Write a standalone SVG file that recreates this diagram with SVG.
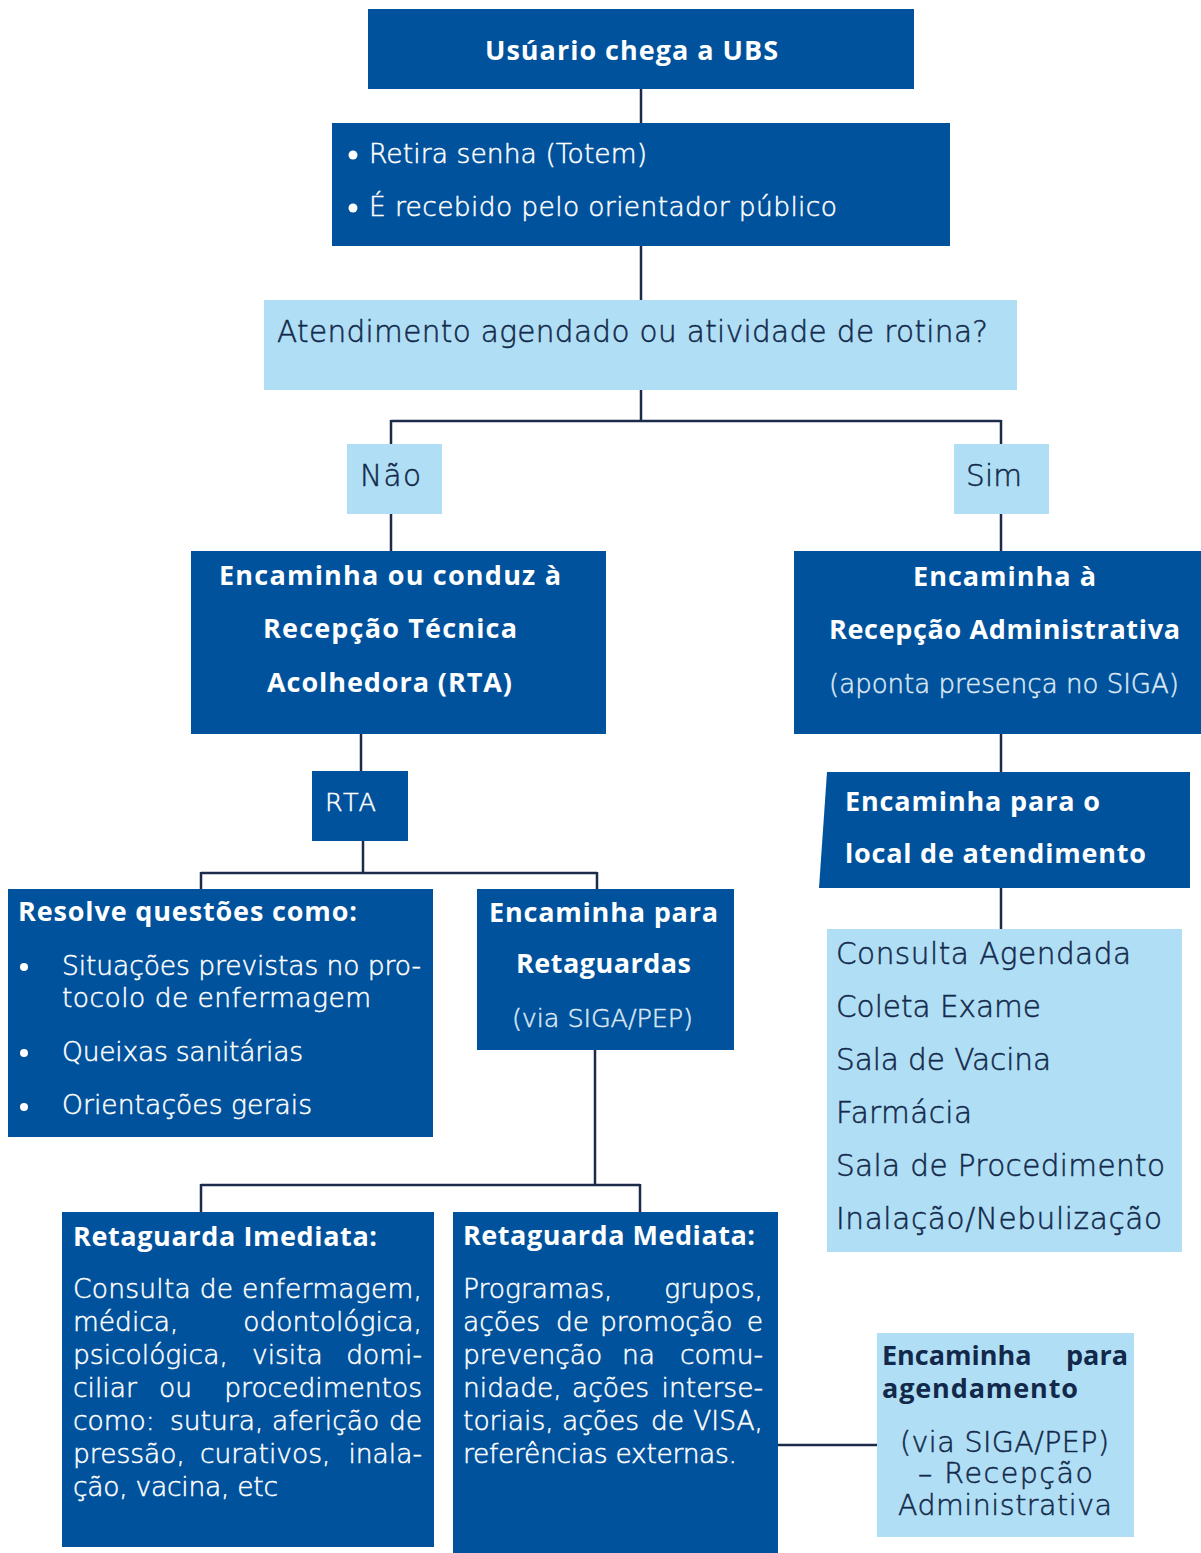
<svg xmlns="http://www.w3.org/2000/svg" width="1201" height="1553" viewBox="0 0 1201 1553">
<style>
.bx{fill:#01529c}
.lt{fill:#b0def4}
.t{font-family:'DejaVu Sans','Open Sans',sans-serif;fill:#fff;stroke:#fff;stroke-width:0.5px;font-weight:300}
.b{font-family:'Open Sans','Liberation Sans',sans-serif;font-weight:700;font-size:27px;stroke-width:0}
.d{fill:#13294b;stroke:#13294b}
.s{fill:#dce8f4;stroke:#dce8f4}
.p{font-size:26.5px}
.e{text-anchor:end}
#connectors path{fill:none;stroke:#1c2b4a;stroke-width:2.5}
</style>
<rect width="1201" height="1553" fill="#fff"/>
<g id="connectors">
<path d="M641 89V123M641 246V300M641 390V421M391 421H1001M391 420V444M1001 420V444"/>
<path d="M391 514V551M1001 514V551M361 734V771M363 841V873M201 873H597M201 872V889M597 872V889"/>
<path d="M1001 734V772M1001 888V929M595 1050V1185M201 1185H640M201 1184V1212M640 1184V1212M778 1445H877"/>
</g>
<g id="n1"><rect class="bx" x="368" y="9" width="546" height="80"/>
<text class="t b" x="485" y="60" textLength="293" lengthAdjust="spacing">Usúario chega a UBS</text></g>
<g id="n2"><rect class="bx" x="332" y="123" width="618" height="123"/>
<circle cx="353" cy="155" r="4.5" fill="#fff"/><circle cx="353" cy="208" r="4.5" fill="#fff"/>
<text class="t" x="369" y="163" font-size="26.5" textLength="278" lengthAdjust="spacing">Retira senha (Totem)</text>
<text class="t" x="369" y="216" font-size="26.5" textLength="468" lengthAdjust="spacing">É recebido pelo orientador público</text></g>
<g id="n3"><rect class="lt" x="264" y="300" width="753" height="90"/>
<text class="t d" x="277" y="342" font-size="29.5" textLength="711" lengthAdjust="spacing">Atendimento agendado ou atividade de rotina?</text></g>
<g id="n4"><rect class="lt" x="347" y="444" width="95" height="70"/>
<text class="t d" x="360" y="486" font-size="29.5" textLength="61" lengthAdjust="spacing">Não</text></g>
<g id="n5"><rect class="lt" x="954" y="444" width="95" height="70"/>
<text class="t d" x="966" y="486" font-size="29.5" textLength="56" lengthAdjust="spacing">Sim</text></g>
<g id="n6"><rect class="bx" x="191" y="551" width="415" height="183"/>
<text class="t b" x="219" y="585" textLength="342" lengthAdjust="spacing">Encaminha ou conduz à</text>
<text class="t b" x="263" y="638" textLength="254" lengthAdjust="spacing">Recepção Técnica</text>
<text class="t b" x="267" y="692" textLength="245" lengthAdjust="spacing">Acolhedora (RTA)</text></g>
<g id="n7"><rect class="bx" x="794" y="551" width="407" height="183"/>
<text class="t b" x="913" y="586" textLength="183" lengthAdjust="spacing">Encaminha à</text>
<text class="t b" x="829" y="639" textLength="351" lengthAdjust="spacing">Recepção Administrativa</text>
<text class="t s" x="829" y="693" font-size="26" textLength="350" lengthAdjust="spacing">(aponta presença no SIGA)</text></g>
<g id="n8"><rect class="bx" x="312" y="771" width="96" height="70"/>
<text class="t" x="325" y="811" font-size="25.5" textLength="51" lengthAdjust="spacing">RTA</text></g>
<g id="n9"><polygon class="bx" points="827,772 1190,772 1190,888 819,888"/>
<text class="t b" x="845" y="811" textLength="255" lengthAdjust="spacing">Encaminha para o</text>
<text class="t b" x="845" y="863" textLength="301" lengthAdjust="spacing">local de atendimento</text></g>
<g id="n10"><rect class="lt" x="827" y="929" width="355" height="323"/>
<text class="t d" x="836" y="964" font-size="29.5" textLength="295" lengthAdjust="spacing">Consulta Agendada</text>
<text class="t d" x="836" y="1017" font-size="29.5" textLength="205" lengthAdjust="spacing">Coleta Exame</text>
<text class="t d" x="836" y="1070" font-size="29.5" textLength="215" lengthAdjust="spacing">Sala de Vacina</text>
<text class="t d" x="836" y="1123" font-size="29.5" textLength="136" lengthAdjust="spacing">Farmácia</text>
<text class="t d" x="836" y="1176" font-size="29.5" textLength="329" lengthAdjust="spacing">Sala de Procedimento</text>
<text class="t d" x="836" y="1229" font-size="29.5" textLength="326" lengthAdjust="spacing">Inalação/Nebulização</text></g>
<g id="n11"><rect class="bx" x="8" y="889" width="425" height="248"/>
<text class="t b" x="18" y="921" textLength="339" lengthAdjust="spacing">Resolve questões como:</text>
<circle cx="24" cy="967" r="4" fill="#fff"/><circle cx="24" cy="1053" r="4" fill="#fff"/><circle cx="24" cy="1107" r="4" fill="#fff"/>
<text class="t p" x="62" y="975" textLength="359" lengthAdjust="spacing">Situações previstas no pro-</text>
<text class="t p" x="62" y="1007" textLength="309" lengthAdjust="spacing">tocolo de enfermagem</text>
<text class="t p" x="62" y="1061" textLength="241" lengthAdjust="spacing">Queixas sanitárias</text>
<text class="t p" x="62" y="1114" textLength="250" lengthAdjust="spacing">Orientações gerais</text></g>
<g id="n12"><rect class="bx" x="477" y="889" width="257" height="161"/>
<text class="t b" x="489" y="922" textLength="229" lengthAdjust="spacing">Encaminha para</text>
<text class="t b" x="516" y="973" textLength="175" lengthAdjust="spacing">Retaguardas</text>
<text class="t s" x="512" y="1027" font-size="25.5" textLength="181" lengthAdjust="spacing">(via SIGA/PEP)</text></g>
<g id="n13"><rect class="bx" x="62" y="1212" width="372" height="335"/>
<text class="t b" x="73" y="1246" textLength="304" lengthAdjust="spacing">Retaguarda Imediata:</text>
<text class="t p" x="73" y="1298" textLength="349" lengthAdjust="spacing">Consulta de enfermagem,</text>
<text class="t p" x="73" y="1331">médica,</text><text class="t p e" x="422" y="1331">odontológica,</text>
<text class="t p"><tspan x="73" y="1364">psicológica,</tspan><tspan x="252" y="1364">visita</tspan></text><text class="t p e" x="422" y="1364">domi-</text>
<text class="t p"><tspan x="73" y="1397">ciliar</tspan><tspan x="159" y="1397">ou</tspan></text><text class="t p e" x="422" y="1397">procedimentos</text>
<text class="t p"><tspan x="73" y="1430">como:</tspan><tspan x="170" y="1430">sutura,</tspan><tspan x="272" y="1430">aferição</tspan></text><text class="t p e" x="422" y="1430">de</text>
<text class="t p"><tspan x="73" y="1463">pressão,</tspan><tspan x="200" y="1463">curativos,</tspan></text><text class="t p e" x="422" y="1463">inala-</text>
<text class="t p" x="73" y="1496" textLength="205" lengthAdjust="spacing">ção, vacina, etc</text></g>
<g id="n14"><rect class="bx" x="453" y="1212" width="325" height="341"/>
<text class="t b" x="463" y="1245" textLength="292" lengthAdjust="spacing">Retaguarda Mediata:</text>
<text class="t p" x="463" y="1298">Programas,</text><text class="t p e" x="763" y="1298">grupos,</text>
<text class="t p"><tspan x="463" y="1331">ações</tspan><tspan x="556" y="1331">de</tspan><tspan x="600" y="1331">promoção</tspan></text><text class="t p e" x="763" y="1331">e</text>
<text class="t p"><tspan x="463" y="1364">prevenção</tspan><tspan x="622" y="1364">na</tspan></text><text class="t p e" x="763" y="1364">comu-</text>
<text class="t p"><tspan x="463" y="1397">nidade,</tspan><tspan x="572" y="1397">ações</tspan></text><text class="t p e" x="763" y="1397">interse-</text>
<text class="t p"><tspan x="463" y="1430">toriais,</tspan><tspan x="562" y="1430">ações</tspan><tspan x="651" y="1430">de</tspan></text><text class="t p e" x="763" y="1430">VISA,</text>
<text class="t p" x="463" y="1463" textLength="274" lengthAdjust="spacing">referências externas.</text></g>
<g id="n15"><rect class="lt" x="877" y="1333" width="257" height="204"/>
<text class="t b d" x="882" y="1365" font-size="26">Encaminha</text><text class="t b d e" x="1128" y="1365" font-size="26">para</text>
<text class="t b d" x="882" y="1398" font-size="26" textLength="196" lengthAdjust="spacing">agendamento</text>
<text class="t d" x="900" y="1452" font-size="28.5" textLength="209" lengthAdjust="spacing">(via SIGA/PEP)</text>
<text class="t d" x="918" y="1483" font-size="28.5" textLength="175" lengthAdjust="spacing">– Recepção</text>
<text class="t d" x="898" y="1515" font-size="28.5" textLength="214" lengthAdjust="spacing">Administrativa</text></g>
</svg>
